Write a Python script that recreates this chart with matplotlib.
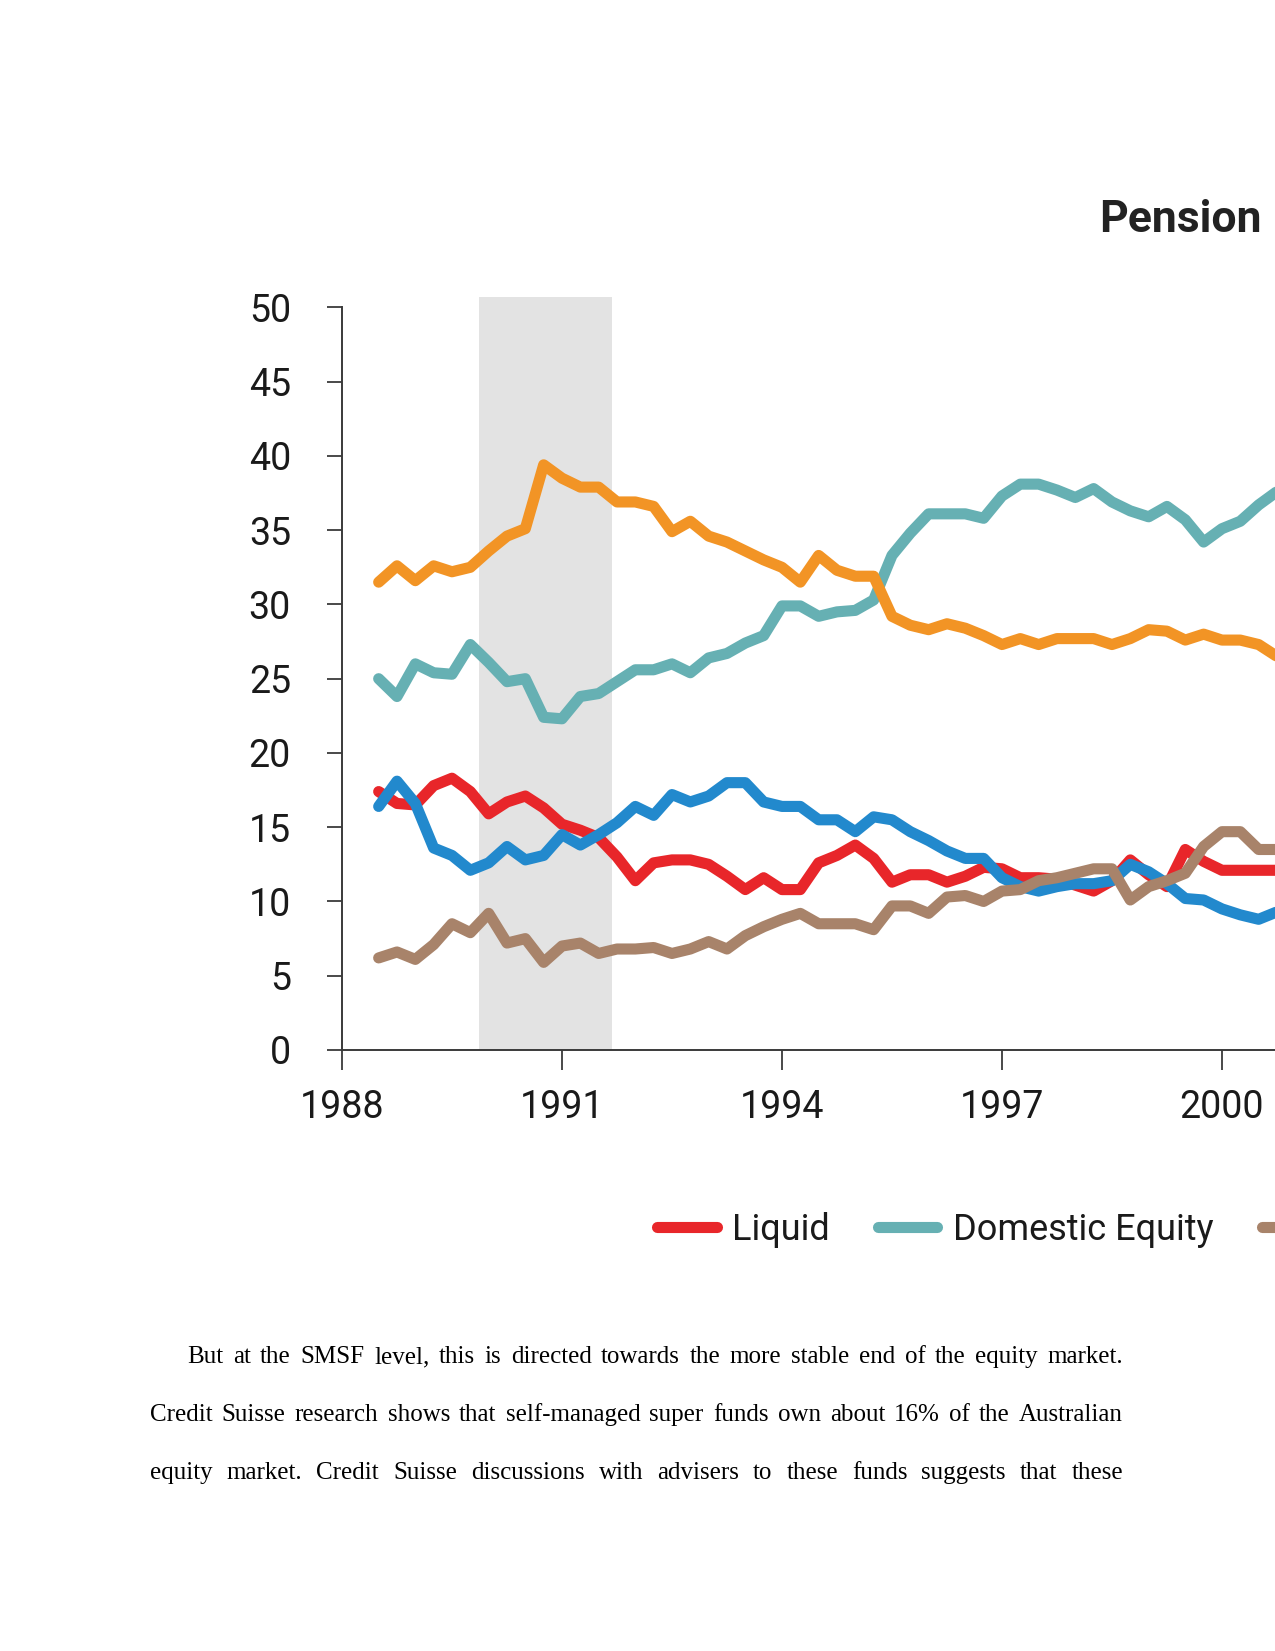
import matplotlib
matplotlib.use("Agg")
import matplotlib.pyplot as plt
import numpy as np

plt.rcParams['font.family'] = ['Roboto', 'DejaVu Sans']

# ---------------- data (quarterly, % of assets) ----------------
start_year = 1988.5
liquid = [17.4, 16.6, 16.5, 17.8, 18.3, 17.4, 15.9, 16.7, 17.1, 16.3,
          15.2, 14.8, 14.3, 13.0, 11.4, 12.6, 12.8, 12.8, 12.5, 11.7,
          10.8, 11.6, 10.8, 10.8, 12.6, 13.1, 13.8, 12.9, 11.3, 11.8,
          11.8, 11.3, 11.7, 12.3, 12.2, 11.6, 11.6, 11.5, 11.1, 10.7,
          11.4, 12.8, 11.8, 11.0, 13.5, 12.7, 12.1, 12.1, 12.1, 12.1]
domestic_equity = [25.0, 23.8, 26.0, 25.4, 25.3, 27.3, 26.1, 24.8, 25.0, 22.4,
                   22.3, 23.8, 24.0, 24.8, 25.6, 25.6, 26.0, 25.4, 26.4, 26.7,
                   27.4, 27.9, 29.9, 29.9, 29.2, 29.5, 29.6, 30.3, 33.3, 34.8,
                   36.1, 36.1, 36.1, 35.8, 37.3, 38.1, 38.1, 37.7, 37.2, 37.8,
                   36.9, 36.3, 35.9, 36.6, 35.7, 34.2, 35.1, 35.6, 36.7, 37.6]
fixed_interest = [31.5, 32.6, 31.6, 32.6, 32.2, 32.5, 33.6, 34.6, 35.1, 39.4,
                  38.5, 37.9, 37.9, 36.9, 36.9, 36.6, 34.9, 35.6, 34.6, 34.2,
                  33.6, 33.0, 32.5, 31.5, 33.3, 32.3, 31.9, 31.9, 29.2, 28.6,
                  28.3, 28.7, 28.4, 27.9, 27.3, 27.7, 27.3, 27.7, 27.7, 27.7,
                  27.3, 27.7, 28.3, 28.2, 27.6, 28.0, 27.6, 27.6, 27.3, 26.5]
property_ = [16.4, 18.1, 16.6, 13.6, 13.1, 12.1, 12.6, 13.7, 12.8, 13.1,
             14.5, 13.8, 14.5, 15.3, 16.4, 15.8, 17.2, 16.7, 17.1, 18.0,
             18.0, 16.7, 16.4, 16.4, 15.5, 15.5, 14.7, 15.7, 15.5, 14.7,
             14.1, 13.4, 12.9, 12.9, 11.6, 11.0, 10.7, 11.0, 11.2, 11.2,
             11.4, 12.5, 12.0, 11.2, 10.2, 10.1, 9.5, 9.1, 8.8, 9.3]
intl_equity = [6.2, 6.6, 6.1, 7.1, 8.5, 7.9, 9.2, 7.2, 7.5, 5.9,
               7.0, 7.2, 6.5, 6.8, 6.8, 6.9, 6.5, 6.8, 7.3, 6.8,
               7.7, 8.3, 8.8, 9.2, 8.5, 8.5, 8.5, 8.1, 9.7, 9.7,
               9.2, 10.3, 10.4, 10.0, 10.7, 10.8, 11.4, 11.6, 11.9, 12.2,
               12.2, 10.1, 11.0, 11.4, 11.9, 13.7, 14.7, 14.7, 13.5, 13.5]
recession = (1989.87, 1991.68)
x_ticks = [1988, 1991, 1994, 1997, 2000]
y_ticks = [0, 5, 10, 15, 20, 25, 30, 35, 40, 45, 50]
legend_labels = ["Liquid", "Domestic Equity", "International Equity",
                 "Property", "Fixed Interest"]

quarters = start_year + 0.25 * np.arange(len(liquid))

# ---------------- figure ----------------
W, H = 1275, 1651
fig = plt.figure(figsize=(W / 100, H / 100), dpi=100)

px_per_year = 73.33
xmin, xmax = 1988, 2008
ax = fig.add_axes([342 / W, 1 - 1050 / H, (xmax - xmin) * px_per_year / W,
                   (1050 - 297) / H])
ax.set_xlim(xmin, xmax)
ax.set_ylim(0, 50.7)

ax.axvspan(*recession, color='#e3e3e3', zorder=0, lw=0)

style = dict(lw=8.0, solid_joinstyle='round', solid_capstyle='round')
l_teal, = ax.plot(quarters, domestic_equity, color='#66b0b3', zorder=2, **style)
l_orange, = ax.plot(quarters, fixed_interest, color='#f29425', zorder=3, **style)
l_red, = ax.plot(quarters, liquid, color='#e8262a', zorder=4, **style)
l_blue, = ax.plot(quarters, property_, color='#2289cd', zorder=5, **style)
l_brown, = ax.plot(quarters, intl_equity, color='#a8836a', zorder=6, **style)

for s in ['top', 'right']:
    ax.spines[s].set_visible(False)
for s in ['left', 'bottom']:
    ax.spines[s].set_color('#3a3a3a')
    ax.spines[s].set_linewidth(1.4)
ax.spines['left'].set_bounds(0, 50)

ax.set_xticks(x_ticks)
ax.set_xticklabels([str(t) for t in x_ticks])
ax.set_yticks(y_ticks)
ax.set_yticklabels([str(t) for t in y_ticks])
ax.tick_params(axis='y', length=10.8, width=1.3, color='#3a3a3a', pad=26,
               labelsize=27, labelcolor='#1a1a1a')
ax.tick_params(axis='x', length=14.4, width=1.3, color='#3a3a3a', pad=14,
               labelsize=27, labelcolor='#1a1a1a')

fig.legend([l_red, l_teal, l_brown, l_blue, l_orange], legend_labels,
           loc='center left', bbox_to_anchor=(657 / W, 1 - 1230 / H),
           ncol=5, frameon=False, fontsize=26, handlelength=1.65,
           handletextpad=0.43, columnspacing=1.33, borderpad=0,
           borderaxespad=0, labelcolor='#1a1a1a')

fig.text(1099 / W, 1 - 232 / H, "Pension", fontsize=32, fontweight='bold',
         color='#222222', ha='left', va='baseline')

# ---------------- justified body text ----------------
body = [
    ("But at the SMSF level, this is directed towards the more stable end of the equity market.", 187, 1363),
    ("Credit Suisse research shows that self-managed super funds own about 16% of the Australian", 150, 1421),
    ("equity market. Credit Suisse discussions with advisers to these funds suggests that these", 150, 1479),
]
right_edge = 1123
renderer = fig.canvas.get_renderer()
for line, left, base in body:
    words = line.split()
    texts = [fig.text(0, 1 - base / H, w, fontsize=18,
                      family=['Liberation Serif', 'DejaVu Serif'],
                      color='black', ha='left', va='baseline') for w in words]
    widths = [t.get_window_extent(renderer).width for t in texts]
    gap = (right_edge - left - sum(widths)) / (len(words) - 1)
    x = left
    for t, w in zip(texts, widths):
        t.set_x(x / W)
        x += w + gap

fig.savefig("out.png", dpi=100)
